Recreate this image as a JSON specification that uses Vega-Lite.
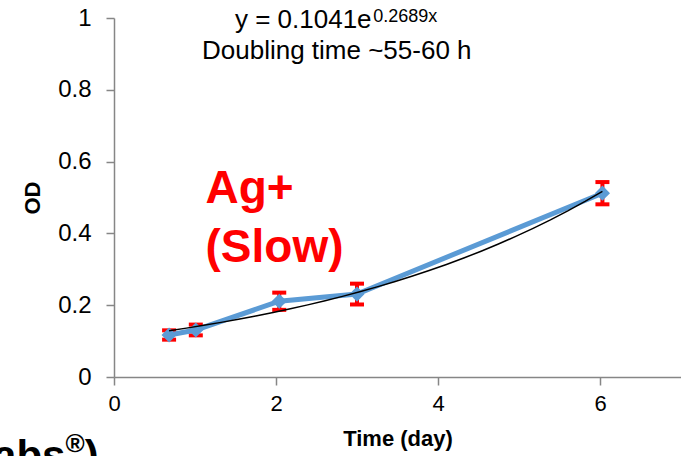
{
  "$schema": "https://vega.github.io/schema/vega-lite/v6.json",
  "width": 567,
  "height": 359,
  "autosize": {"type": "none"},
  "padding": {"left": 114, "top": 18, "right": 0, "bottom": 79},
  "background": "white",
  "config": {
    "view": {"stroke": null},
    "font": "Liberation Sans",
    "axis": {
      "domainColor": "#868686",
      "domainWidth": 1.5,
      "tickColor": "#868686",
      "tickWidth": 1.5,
      "tickSize": 8,
      "grid": false,
      "labelFlush": false,
      "labelFont": "Liberation Sans",
      "labelColor": "black",
      "titleFont": "Liberation Sans",
      "titleFontSize": 22,
      "titleFontWeight": "bold",
      "titleColor": "black"
    }
  },
  "data": {
    "values": [
      {"time": 0.68, "od": 0.117, "err": 0.013},
      {"time": 1.01, "od": 0.131, "err": 0.015},
      {"time": 2.04, "od": 0.211, "err": 0.024},
      {"time": 3.0, "od": 0.231, "err": 0.029},
      {"time": 6.03, "od": 0.512, "err": 0.031}
    ]
  },
  "layer": [
    {
      "mark": {"type": "errorbar", "opacity": 1, "ticks": {"size": 14, "thickness": 4, "color": "#FF0000", "opacity": 1}, "rule": {"strokeWidth": 4, "color": "#FF0000", "opacity": 1}},
      "encoding": {
        "x": {"field": "time", "type": "quantitative", "scale": {"domain": [0, 7]}, "axis": {"values": [0, 2, 4, 6], "format": "~g", "title": "Time (day)", "labelFontSize": 22, "labelPadding": 8, "titlePadding": 14}},
        "y": {"field": "od", "type": "quantitative", "scale": {"domain": [0, 1]}, "axis": {"values": [0, 0.2, 0.4, 0.6, 0.8, 1], "format": "~g", "title": "OD", "labelFontSize": 24, "labelPadding": 15, "titlePadding": 13}},
        "yError": {"field": "err"}
      }
    },
    {
      "mark": {"type": "line", "color": "#5B9BD5", "strokeWidth": 5},
      "encoding": {
        "x": {"field": "time", "type": "quantitative"},
        "y": {"field": "od", "type": "quantitative"}
      }
    },
    {
      "mark": {"type": "point", "shape": "diamond", "size": 230, "filled": true, "color": "#5B9BD5", "opacity": 1},
      "encoding": {
        "x": {"field": "time", "type": "quantitative"},
        "y": {"field": "od", "type": "quantitative"}
      }
    },
    {
      "transform": [{"regression": "od", "on": "time", "method": "exp", "extent": [0.68, 6.03]}],
      "mark": {"type": "line", "color": "black", "strokeWidth": 1.5},
      "encoding": {
        "x": {"field": "time", "type": "quantitative"},
        "y": {"field": "od", "type": "quantitative"}
      }
    },
    {
      "data": {"values": [{}]},
      "mark": {"type": "text", "text": "y = 0.1041e", "align": "right", "baseline": "alphabetic", "fontSize": 26, "font": "Liberation Sans", "color": "black"},
      "encoding": {"x": {"datum": 3.18}, "y": {"datum": 0.973}}
    },
    {
      "data": {"values": [{}]},
      "mark": {"type": "text", "text": "0.2689x", "align": "left", "baseline": "alphabetic", "fontSize": 18, "font": "Liberation Sans", "color": "black"},
      "encoding": {"x": {"datum": 3.2}, "y": {"datum": 0.99}}
    },
    {
      "data": {"values": [{}]},
      "mark": {"type": "text", "text": "Doubling time ~55-60 h", "align": "center", "baseline": "alphabetic", "fontSize": 26, "font": "Liberation Sans", "color": "black"},
      "encoding": {"x": {"datum": 2.75}, "y": {"datum": 0.885}}
    },
    {
      "data": {"values": [{}]},
      "mark": {"type": "text", "text": "Ag+", "align": "left", "baseline": "alphabetic", "fontSize": 46, "fontWeight": "bold", "font": "Liberation Sans", "color": "#FF0000"},
      "encoding": {"x": {"datum": 1.13}, "y": {"datum": 0.485}}
    },
    {
      "data": {"values": [{}]},
      "mark": {"type": "text", "text": "(Slow)", "align": "left", "baseline": "alphabetic", "fontSize": 46, "fontWeight": "bold", "font": "Liberation Sans", "color": "#FF0000"},
      "encoding": {"x": {"datum": 1.13}, "y": {"datum": 0.321}}
    },
    {
      "data": {"values": [{}]},
      "mark": {"type": "text", "text": "abs", "align": "right", "baseline": "alphabetic", "fontSize": 42, "fontWeight": "bold", "font": "Liberation Sans", "color": "black"},
      "encoding": {"x": {"datum": -0.6}, "y": {"datum": -0.26}}
    },
    {
      "data": {"values": [{}]},
      "mark": {"type": "text", "text": "®", "align": "left", "baseline": "alphabetic", "fontSize": 26, "fontWeight": "bold", "font": "Liberation Sans", "color": "black"},
      "encoding": {"x": {"datum": -0.6}, "y": {"datum": -0.21}}
    },
    {
      "data": {"values": [{}]},
      "mark": {"type": "text", "text": ")", "align": "left", "baseline": "alphabetic", "fontSize": 42, "fontWeight": "bold", "font": "Liberation Sans", "color": "black"},
      "encoding": {"x": {"datum": -0.36}, "y": {"datum": -0.26}}
    }
  ]
}
